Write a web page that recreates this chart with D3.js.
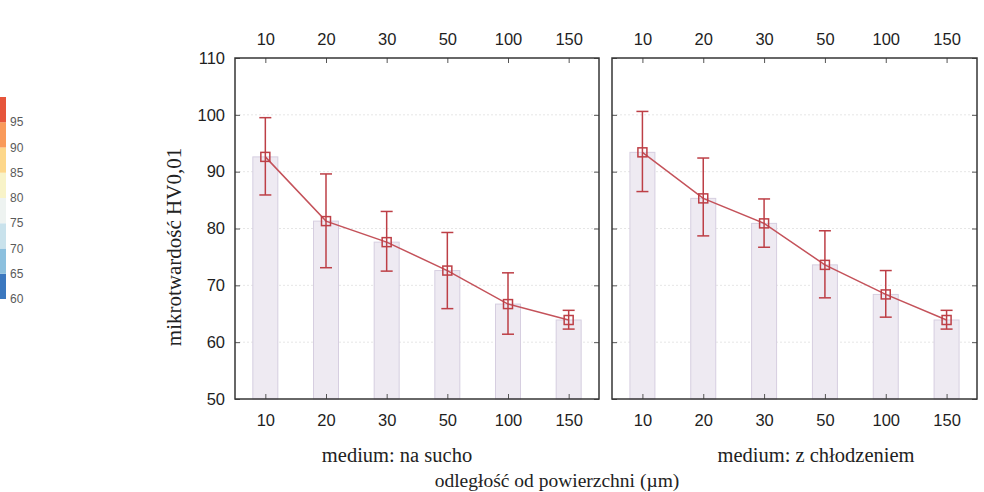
<!DOCTYPE html>
<html>
<head>
<meta charset="utf-8">
<script src="https://cdn.jsdelivr.net/npm/d3@7"></script>
<style>
  body { margin: 0; background: #fff; }
  text { font-family: "Liberation Sans", Arial, sans-serif; }
  .serif { font-family: "Liberation Serif", "Times New Roman", serif; }
</style>
</head>
<body>
<div class="canvas"></div>
<script>
const dims = { width: 984, height: 492 };

// data
const distances = ['10', '20', '30', '50', '100', '150'];
const panels = ['medium: na sucho', 'medium: z chłodzeniem'];
const meanDry = [92.6, 81.3, 77.6, 72.6, 66.7, 63.9];
const lowDry = [85.9, 73.1, 72.5, 65.9, 61.4, 62.3];
const highDry = [99.5, 89.6, 83.0, 79.3, 72.2, 65.6];
const meanCool = [93.4, 85.3, 80.9, 73.6, 68.4, 63.9];
const lowCool = [86.5, 78.7, 76.7, 67.8, 64.4, 62.3];
const highCool = [100.6, 92.4, 85.2, 79.6, 72.6, 65.6];
const yTicks = [50, 60, 70, 80, 90, 100, 110];
const legendTicks = [60, 65, 70, 75, 80, 85, 90, 95];

const legendColours = ['#3b78bf', '#8cc0de', '#c9e2ec', '#eef3f1', '#f8f3c8', '#fdd78a', '#f99a5a', '#e6553b'];
const red = '#bd3f46';

const svg = d3.select('.canvas')
    .append('svg')
    .attr('width', dims.width)
    .attr('height', dims.height);

// colour legend on the left
const ly = d3.scaleLinear().domain([60, 100]).range([299, 97]);
const legend = svg.append('g');
legend.selectAll('rect')
    .data(d3.range(60, 100, 5))
    .enter()
    .append('rect')
    .attr('x', 0)
    .attr('width', 6)
    .attr('y', d => ly(d + 5))
    .attr('height', d => ly(d) - ly(d + 5))
    .attr('fill', (d, i) => legendColours[i]);
legend.selectAll('text')
    .data(legendTicks)
    .enter()
    .append('text')
    .attr('x', 10)
    .attr('y', d => ly(d))
    .attr('dy', '0.35em')
    .attr('font-size', 12)
    .attr('fill', '#5a5a5a')
    .text(d => d);

const y = d3.scaleLinear().domain([50, 110]).range([399, 58]);

const panelData = [
    { name: panels[0], x0: 235, x1: 599, mean: meanDry, low: lowDry, high: highDry, labelX: 397 },
    { name: panels[1], x0: 612, x1: 977, mean: meanCool, low: lowCool, high: highCool, labelX: 816 }
];

panelData.forEach((p, pi) => {
    const x = d3.scalePoint().domain(distances).range([p.x0, p.x1]).padding(0.5);
    const g = svg.append('g');

    // faint dotted grid
    g.selectAll('.grid')
        .data([60, 70, 80, 90, 100])
        .enter()
        .append('line')
        .attr('x1', p.x0).attr('x2', p.x1)
        .attr('y1', d => y(d)).attr('y2', d => y(d))
        .attr('stroke', '#e6e6e6')
        .attr('stroke-dasharray', '2,2');

    // bars
    g.selectAll('.bar')
        .data(p.mean)
        .enter()
        .append('rect')
        .attr('x', (d, i) => x(distances[i]) - 12.5)
        .attr('width', 25)
        .attr('y', d => y(d))
        .attr('height', d => y(50) - y(d))
        .attr('fill', '#eeeaf2')
        .attr('stroke', '#d6cee0')
        .attr('stroke-width', 1);

    // axes with inward ticks
    const top = g.append('g').attr('transform', `translate(0, ${y(110)})`)
        .call(d3.axisTop(x).tickSize(-5).tickPadding(13));
    const bottom = g.append('g').attr('transform', `translate(0, ${y(50)})`)
        .call(d3.axisBottom(x).tickSize(-5).tickPadding(15));
    const left = g.append('g').attr('transform', `translate(${p.x0}, 0)`)
        .call(d3.axisLeft(y).tickValues(yTicks).tickSize(-5).tickPadding(10));
    const right = g.append('g').attr('transform', `translate(${p.x1}, 0)`)
        .call(d3.axisRight(y).tickValues(yTicks).tickSize(-5).tickFormat(''));
    if (pi > 0) left.selectAll('text').remove();

    [top, bottom, left, right].forEach(a => {
        a.select('.domain').remove();
        a.selectAll('line').attr('stroke', '#555');
        a.selectAll('text')
            .attr('font-size', 16.5)
            .attr('fill', '#1e1e1e')
            .style('font-family', '"Liberation Sans", Arial, sans-serif');
    });

    // frame
    g.append('rect')
        .attr('x', p.x0).attr('y', y(110))
        .attr('width', p.x1 - p.x0).attr('height', y(50) - y(110))
        .attr('fill', 'none')
        .attr('stroke', '#363636')
        .attr('stroke-width', 1.5);

    // mean line
    const line = d3.line()
        .x((d, i) => x(distances[i]))
        .y(d => y(d));
    g.append('path')
        .datum(p.mean)
        .attr('d', line)
        .attr('fill', 'none')
        .attr('stroke', '#c4525a')
        .attr('stroke-width', 1.5);

    // error bars
    const err = g.selectAll('.err')
        .data(p.mean.map((m, i) => ({ cat: distances[i], lo: p.low[i], hi: p.high[i], m })))
        .enter()
        .append('g')
        .attr('stroke', red)
        .attr('stroke-width', 1.5);
    err.append('line')
        .attr('x1', d => x(d.cat)).attr('x2', d => x(d.cat))
        .attr('y1', d => y(d.lo)).attr('y2', d => y(d.hi));
    err.append('line')
        .attr('x1', d => x(d.cat) - 6).attr('x2', d => x(d.cat) + 6)
        .attr('y1', d => y(d.hi)).attr('y2', d => y(d.hi));
    err.append('line')
        .attr('x1', d => x(d.cat) - 6).attr('x2', d => x(d.cat) + 6)
        .attr('y1', d => y(d.lo)).attr('y2', d => y(d.lo));
    err.append('rect')
        .attr('x', d => x(d.cat) - 4.5).attr('y', d => y(d.m) - 4.5)
        .attr('width', 9).attr('height', 9)
        .attr('fill', 'none');

    // panel label
    svg.append('text')
        .attr('class', 'serif')
        .attr('x', p.labelX)
        .attr('y', 462)
        .attr('text-anchor', 'middle')
        .attr('font-size', 20.5)
        .attr('fill', '#222')
        .text(p.name);
});

// axis titles
svg.append('text')
    .attr('class', 'serif')
    .attr('transform', 'translate(181, 247) rotate(-90)')
    .attr('text-anchor', 'middle')
    .attr('font-size', 21)
    .attr('fill', '#222')
    .text('mikrotwardość HV0,01');

svg.append('text')
    .attr('class', 'serif')
    .attr('x', 557)
    .attr('y', 487)
    .attr('text-anchor', 'middle')
    .attr('font-size', 19.5)
    .attr('fill', '#222')
    .text('odległość od powierzchni (µm)');
</script>
</body>
</html>
